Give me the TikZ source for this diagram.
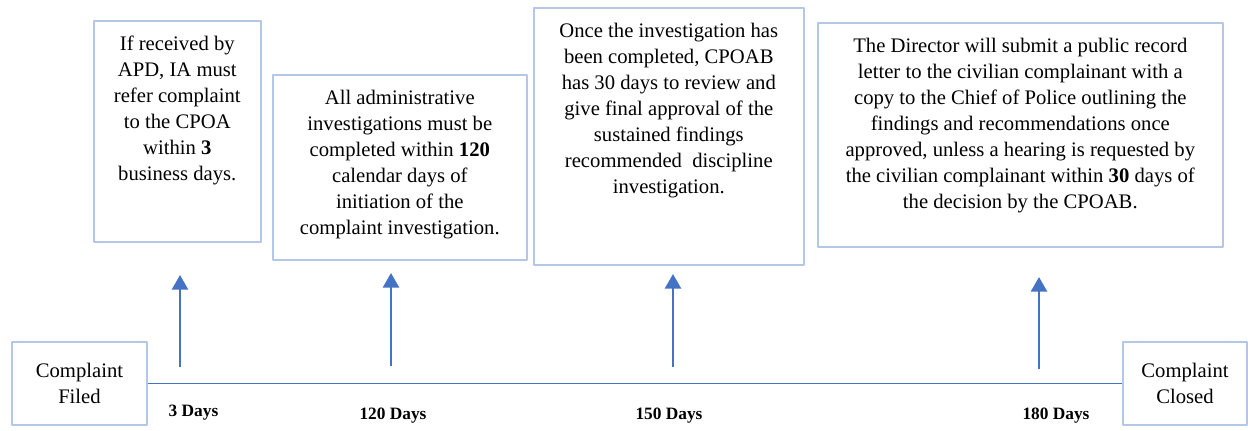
\documentclass[tikz,border=0pt]{standalone}
\usepackage{fontspec}
\setmainfont{Liberation Serif}
\usetikzlibrary{arrows.meta,positioning,calc}
\definecolor{boxblue}{HTML}{B4C7E7}
\definecolor{lineblue}{HTML}{4472C4}
\newcommand \notetext[3]
{\parbox[c][#1][t]{#2}{\centering\rule{0pt}{22.5pt}#3}}

\begin{document}
\begin{tikzpicture}[x=0.75pt, y=-0.75pt, line join=round,
  every node/.style={font=\fontsize{15.5}{19.5}\selectfont},
  notebox/.style={draw=boxblue, line width=1.2pt, inner sep=0pt, anchor=north west},
  endbox/.style={draw=boxblue, line width=1.2pt, align=center, minimum height=62.25pt},
  dayarrow/.style={lineblue, line width=2pt, -{Triangle[width=12pt,length=11pt]}},
  daylabel/.style={font=\fontsize{13}{15}\selectfont\bfseries}]
\useasboundingbox (0,0) rectangle (1248,431);
% boxes above the timeline
\node[notebox] (n1) at (93,20)
  {\notetext{165.75pt}{125.25pt}{If received by\\ APD, IA must\\ refer complaint\\ to the CPOA\\ within \textbf{3}\\ business days.}};
\node[notebox] (n2) at (272,74)
  {\notetext{138.75pt}{190.5pt}{All administrative\\ investigations must be\\ completed within \textbf{120}\\ calendar days of\\ initiation of the\\ complaint investigation.}};
\node[notebox] (n3) at (533,7)
  {\notetext{192.75pt}{202.5pt}{Once the investigation has\\ been completed, CPOAB\\ has 30 days to review and\\ give final approval of the\\ sustained findings\\ recommended\ \ discipline\\ investigation.}};
\node[notebox] (n4) at (817,22)
  {\notetext{168pt}{303.75pt}{The Director will submit a public record\\ letter to the civilian complainant with a\\ copy to the Chief of Police outlining the\\ findings and recommendations once\\ approved, unless a hearing is requested by\\ the civilian complainant within \textbf{30} days of\\ the decision by the CPOAB.}};
% ends of the timeline
\node[endbox, minimum width=101.25pt] (filed)  at (79.5,383.5) {Complaint\\ Filed};
\node[endbox, minimum width=93pt]     (closed) at (1185,383.5) {Complaint\\ Closed};
\draw[lineblue, line width=1.3pt] (filed) -- (closed);
% arrows
\coordinate (a1) at (180,367);  \coordinate (t1) at (180,275);
\coordinate (a2) at (391,366);  \coordinate (t2) at (391,273);
\coordinate (a3) at (673,367);  \coordinate (t3) at (673,274);
\coordinate (a4) at (1039,369); \coordinate (t4) at (1039,277);
\draw[dayarrow] (a1) -- (t1);
\draw[dayarrow] (a2) -- (t2);
\draw[dayarrow] (a3) -- (t3);
\draw[dayarrow] (a4) -- (t4);
% day labels
\node[daylabel] (d1) at (193.5,413) {3 Days};
\node[daylabel] (d2) at (393,416)   {120 Days};
\node[daylabel] (d3) at (669,416)   {150 Days};
\node[daylabel] (d4) at (1056,416)  {180 Days};
\end{tikzpicture}
\end{document}
